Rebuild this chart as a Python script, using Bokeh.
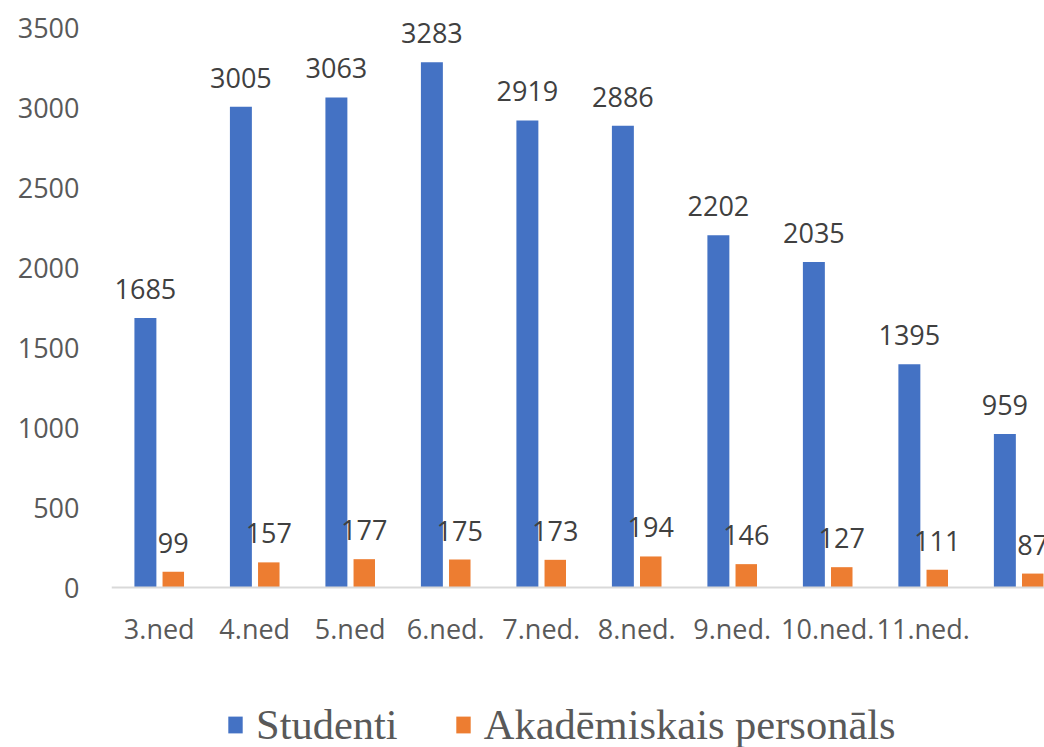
from bokeh.plotting import figure
from bokeh.models import ColumnDataSource, Range1d, FixedTicker, Legend, LegendItem
from bokeh.embed import file_html
from bokeh.resources import INLINE
from bokeh.core.properties import value

categories = ["3.ned", "4.ned", "5.ned", "6.ned.", "7.ned.", "8.ned.", "9.ned.", "10.ned.", "11.ned.", ""]
studenti = [1685, 3005, 3063, 3283, 2919, 2886, 2202, 2035, 1395, 959]
akademiskais = [99, 157, 177, 175, 173, 194, 146, 127, 111, 87]
y_ticks = [0, 500, 1000, 1500, 2000, 2500, 3000, 3500]

xs = list(range(len(categories)))
src_s = ColumnDataSource(dict(x=[i - 0.145 for i in xs], top=studenti, lab=[str(v) for v in studenti]))
src_a = ColumnDataSource(dict(x=[i + 0.147 for i in xs], top=akademiskais, lab=[str(v) for v in akademiskais]))

p = figure(width=1044, height=747, output_backend="svg", toolbar_location=None,
           x_range=Range1d(-0.5, 9.27), y_range=Range1d(-1000, 3637.5),
           min_border_left=111, min_border_right=0, min_border_top=5, min_border_bottom=0)
p.outline_line_color = None
p.xgrid.visible = False
p.ygrid.visible = False

r1 = p.vbar(x="x", top="top", width=0.23, source=src_s, color="#4472C4", line_color=None)
r2 = p.vbar(x="x", top="top", width=0.225, source=src_a, color="#ED7D31", line_color=None)

for src in (src_s, src_a):
    p.text(x="x", y="top", text="lab", source=src, text_align="center", text_baseline="middle",
           y_offset=-29, text_font=value("Open Sans"), text_font_size="27px", text_color="#404040")

p.xaxis.fixed_location = 0
p.xaxis.ticker = FixedTicker(ticks=xs)
p.xaxis.major_label_overrides = {i: c for i, c in enumerate(categories)}
p.xaxis.axis_line_color = "#d9d9d9"
p.xaxis.axis_line_width = 2
p.xaxis.major_tick_line_color = None
p.xaxis.minor_tick_line_color = None
p.xaxis.major_label_text_font = "Open Sans"
p.xaxis.major_label_text_font_size = "27px"
p.xaxis.major_label_text_color = "#595959"
p.xaxis.major_label_standoff = 16

p.yaxis.ticker = FixedTicker(ticks=y_ticks)
p.yaxis.axis_line_color = None
p.yaxis.major_tick_line_color = None
p.yaxis.minor_tick_line_color = None
p.yaxis.major_label_text_font = "Open Sans"
p.yaxis.major_label_text_font_size = "27px"
p.yaxis.major_label_text_color = "#595959"
p.yaxis.major_label_standoff = 26

legend = Legend(items=[LegendItem(label="Studenti", renderers=[r1]),
                       LegendItem(label="Akadēmiskais personāls", renderers=[r2])],
                orientation="horizontal", location=(115, -2))
legend.label_text_font = "Liberation Serif"
legend.label_text_font_size = "42.5px"
legend.label_text_color = "#595959"
legend.glyph_width = 18
legend.glyph_height = 21
legend.label_standoff = 12
legend.spacing = 56
legend.border_line_color = None
legend.background_fill_alpha = 0
legend.margin = 0
legend.padding = 0
p.add_layout(legend, "center")

open("out.html", "w").write(file_html(p, INLINE))
